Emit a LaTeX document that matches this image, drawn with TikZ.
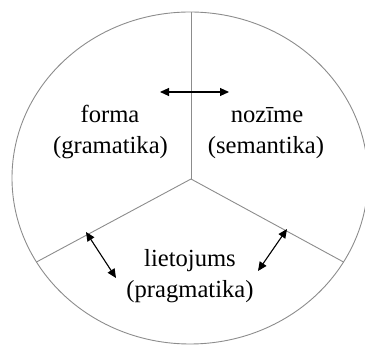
\documentclass[tikz,border=0pt]{standalone}
\usepackage{fontspec}
\setmainfont{Liberation Serif}
\newfontfamily\tnr{Liberation Serif}
\usetikzlibrary{arrows.meta}
\begin{document}
\begin{tikzpicture}[x=1pt,y=-1pt,
  divline/.style={draw=black!45,line width=0.9pt},
  dbl/.style={line width=1.1pt,{Triangle[length=9pt,width=8pt]}-{Triangle[length=9pt,width=8pt]}},
  lbl/.style={anchor=base,inner sep=0pt,font=\tnr\fontsize{24.6}{30}\selectfont}]
\useasboundingbox (0,0) rectangle (365,347);
\draw[divline] (190,178) ellipse [x radius=178,y radius=166];
\coordinate (c) at (191,179);
\coordinate (t) at (191,12);
\coordinate (l) at (36.5,262);
\coordinate (r) at (343.5,262);
\draw[divline] (c) -- (t);
\draw[divline] (c) -- (l);
\draw[divline] (c) -- (r);
\node[lbl] (f1) at (110,123) {forma};
\node[lbl] (f2) at (110.5,153.5) {(gramatika)};
\node[lbl] (n1) at (267,123) {nozīme};
\node[lbl] (n2) at (266,153.5) {(semantika)};
\node[lbl] (p1) at (190,267) {lietojums};
\node[lbl] (p2) at (190,298) {(pragmatika)};
\coordinate (a1) at (160,92);
\coordinate (a2) at (229,92);
\coordinate (b1) at (86,232);
\coordinate (b2) at (116,278);
\coordinate (d1) at (287,229);
\coordinate (d2) at (258,271);
\draw[dbl] (a1) -- (a2);
\draw[dbl] (b1) -- (b2);
\draw[dbl] (d1) -- (d2);
\end{tikzpicture}
\end{document}
